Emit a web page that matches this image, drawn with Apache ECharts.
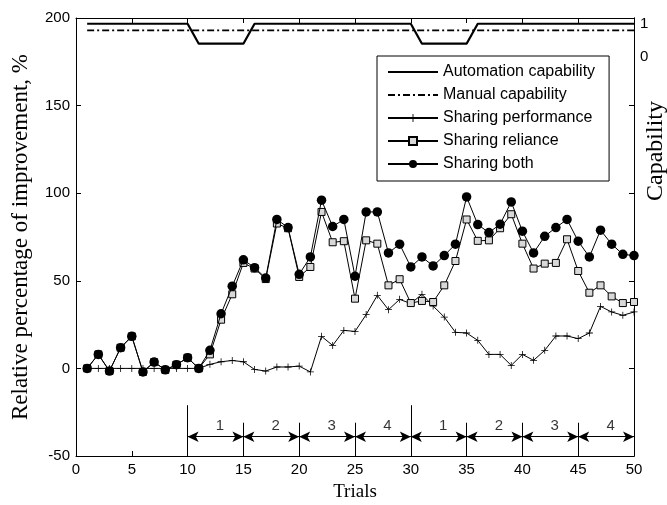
<!DOCTYPE html>
<html>
<head>
<meta charset="utf-8">
<script src="https://cdn.jsdelivr.net/npm/echarts@6/dist/echarts.min.js"></script>
<style>html,body{margin:0;padding:0;background:#fff;}#c{width:667px;height:505px;}</style>
</head>
<body>
<div id="c"></div>
<script>
// ---- data ----
var trials = [1,2,3,4,5,6,7,8,9,10,11,12,13,14,15,16,17,18,19,20,21,22,23,24,25,26,27,28,29,30,31,32,33,34,35,36,37,38,39,40,41,42,43,44,45,46,47,48,49,50];
var sharingPerformance = [0,0,0,0,0,0,0,0,0,0,0,2.3,3.8,4.5,3.8,-0.6,-1.5,0.8,0.8,1.3,-2,18.3,13.1,21.7,21.1,30.7,41.7,33.5,39.4,37,42.3,35.6,29.3,20.6,20.2,16,8,8,1.7,8,4.6,10.3,18.5,18.5,17,20.2,35.4,32.2,30.3,32.2];
var sharingReliance = [0,8,-1.5,11.8,18.3,-2,3.6,-0.8,2.1,6.1,0,8,27.8,42.3,60.2,57,51,82.7,80,52.2,57.9,89.3,72,72.6,39.8,73.1,71.2,47.4,50.9,37.3,38.5,37.9,47.4,61.3,85,72.8,73.1,80,88,71.2,57,59.8,60.2,73.7,55.6,43.2,47.4,41.1,37.3,37.9];
var sharingBoth = [0,8,-1.5,11.8,18.3,-2,3.6,-0.8,2.1,6.1,0,10.3,31.2,46.9,62,57.5,51.6,85,80.4,53.7,63.6,96,81,85,52.6,89.3,89.3,65.9,70.9,57.9,63.6,58.5,64.4,70.9,97.9,82.1,77.5,82.3,95,78.3,65.9,75.4,80.4,85,72.6,63.6,78.9,70.9,65.1,64.4];
var autoCapX = [1,10,11,15,16,30,31,35,36,50];
var autoCapY = [1,1,0.4,0.4,1,1,0.4,0.4,1,1];
var manualCapX = [1,50];
var manualCapY = [0.8,0.8];
var phaseBounds = [10,15,20,25,30,35,40,45,50];
var phaseLabels = ['1','2','3','4','1','2','3','4'];
var blockStarts = [10,30];
var capTicks = [0,1];

function zip(xs, ys){ return xs.map(function(x,i){ return [x, ys[i]]; }); }

var plusPath = 'path://M4,0h1v4h4v1h-4v4h-1v-4h-4v-1h4z';
var FONT = 'Liberation Sans';
var SERIF = 'Liberation Serif';

// annotation marks
var vLines = phaseBounds.slice(0, phaseBounds.length-1).map(function(b){
  var tall = blockStarts.indexOf(b) >= 0;
  return [{coord:[b,-50], symbol:'none'},{coord:[b, tall ? -21 : -31], symbol:'none'}];
});
var arrows = [];
for (var i=0;i<phaseBounds.length-1;i++){
  arrows.push([{coord:[phaseBounds[i],-39], symbol:'arrow'},{coord:[phaseBounds[i+1],-39], symbol:'arrow'}]);
}
var labelPts = phaseLabels.map(function(l,i){ return [(phaseBounds[i]+phaseBounds[i+1])/2 + 0.4, -33, l]; });

var chart = echarts.init(document.getElementById('c'), null, {renderer:'canvas'});
var axisLineStyle = {color:'#000', width:1};
chart.setOption({
  animation:false,
  backgroundColor:'#fff',
  grid:{left:76, right:33, top:18, bottom:49, containLabel:false, outerBoundsMode:'none'},
  legend:{
    left:377, top:56, orient:'vertical',
    data:[
      {name:'Automation capability', itemStyle:{opacity:0}},
      {name:'Manual capability', itemStyle:{opacity:0}},
      'Sharing performance','Sharing reliance','Sharing both'],
    borderColor:'#000', borderWidth:1, padding:[7,14,8,10], backgroundColor:'#fff',
    itemWidth:50, itemHeight:10, itemGap:5,
    textStyle:{fontFamily:FONT, fontSize:16, color:'#000', lineHeight:18},
    selectedMode:false
  },
  xAxis:[
    {type:'value', min:0, max:50, interval:5, position:'bottom',
     axisLine:{onZero:false, lineStyle:axisLineStyle}, axisTick:{inside:true, length:5, lineStyle:axisLineStyle},
     axisLabel:{color:'#000', fontFamily:FONT, fontSize:15, margin:6},
     splitLine:{show:false},
     name:'Trials', nameLocation:'middle', nameGap:27,
     nameTextStyle:{fontFamily:SERIF, fontSize:19, color:'#000'}},
    {type:'value', min:0, max:50, interval:5, position:'top',
     axisLine:{onZero:false, lineStyle:axisLineStyle}, axisTick:{inside:true, length:5, lineStyle:axisLineStyle},
     axisLabel:{show:false}, splitLine:{show:false}}
  ],
  yAxis:[
    {type:'value', min:-50, max:200, interval:50, position:'left',
     axisLine:{show:true, onZero:false, lineStyle:axisLineStyle}, axisTick:{inside:true, length:5, lineStyle:axisLineStyle},
     axisLabel:{color:'#000', fontFamily:FONT, fontSize:15, margin:6},
     splitLine:{show:false},
     name:'Relative percentage of improvement, %', nameLocation:'middle', nameGap:44,
     nameTextStyle:{fontFamily:SERIF, fontSize:23, color:'#000'}},
    {type:'value', min:-12, max:1.173, interval:1, position:'right',
     axisLine:{show:true, onZero:false, lineStyle:axisLineStyle}, axisTick:{show:false},
     axisLabel:{color:'#000', fontFamily:FONT, fontSize:15, margin:6, showMaxLabel:false,
       formatter:function(v){ for (var k=0;k<capTicks.length;k++){ if (Math.abs(v-capTicks[k])<1e-6) return String(capTicks[k]); } return ''; }},
     splitLine:{show:false}},
    {type:'value', min:-50, max:200, interval:50, position:'right',
     axisLine:{show:true, onZero:false, lineStyle:axisLineStyle}, axisTick:{inside:true, length:5, lineStyle:axisLineStyle},
     axisLabel:{show:false}, splitLine:{show:false}}
  ],
  graphic:[
    {type:'text', x:656, y:151, rotation:Math.PI/2,
     style:{text:'Capability', font:'24px "Liberation Serif"', fill:'#000', textAlign:'center', textVerticalAlign:'middle'}}
  ],
  series:[
    {name:'Automation capability', type:'line', yAxisIndex:1, data:zip(autoCapX, autoCapY),
     symbol:'none', lineStyle:{color:'#000', width:2.2}, itemStyle:{color:'#000'}, z:3},
    {name:'Manual capability', type:'line', yAxisIndex:1, data:zip(manualCapX, manualCapY),
     symbol:'none', lineStyle:{color:'#000', width:1.8, type:[7,3,2,3]}, itemStyle:{color:'#000'}, z:3},
    {name:'Sharing performance', type:'line', data:zip(trials, sharingPerformance),
     symbol:plusPath, symbolSize:7, lineStyle:{color:'#000', width:1},
     itemStyle:{color:'#000'}, z:4},
    {name:'Sharing reliance', type:'line', data:zip(trials, sharingReliance),
     symbol:'rect', symbolSize:7, lineStyle:{color:'#000', width:1},
     itemStyle:{color:'#d8d8d8', borderColor:'#000', borderWidth:1}, z:5},
    {name:'Sharing both', type:'line', data:zip(trials, sharingBoth),
     symbol:'circle', symbolSize:9.5, lineStyle:{color:'#000', width:1},
     itemStyle:{color:'#000'}, z:6},
    {name:'phases', type:'scatter', data:labelPts, symbolSize:0, silent:true,
     label:{show:true, position:'inside', formatter:function(p){return p.value[2];}, color:'#000', fontFamily:FONT, fontSize:15},
     markLine:{silent:true, symbolSize:[8,11], lineStyle:{color:'#000', width:1, type:'solid'}, label:{show:false},
       data: vLines.concat(arrows)}}
  ]
});
</script>
</body>
</html>
